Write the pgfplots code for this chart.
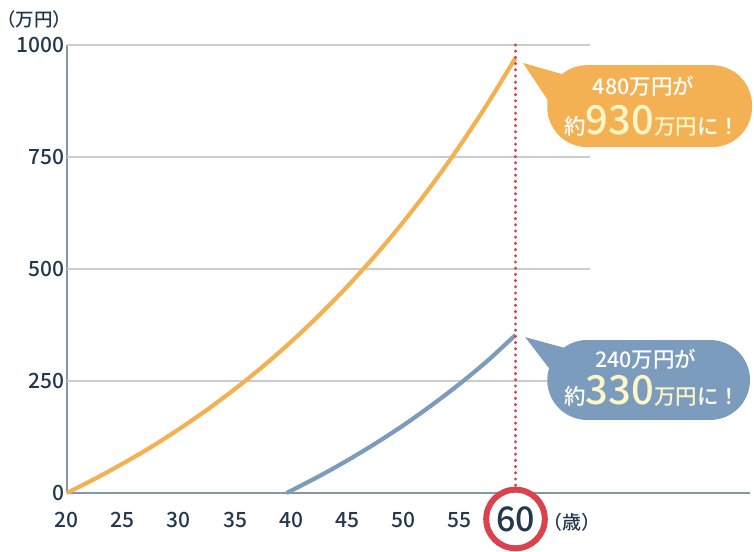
\documentclass[border=0pt]{standalone}
\usepackage{fontspec}
\setmainfont{Noto Sans CJK JP}
\newfontfamily\med{Noto Sans CJK JP Medium}
\usepackage{pgfplots}
\pgfplotsset{compat=1.18}
\definecolor{orng}{HTML}{F4B153}
\definecolor{blu}{HTML}{7B9CBC}
\definecolor{redc}{HTML}{D9434E}
\definecolor{axc}{HTML}{8797A6}
\definecolor{gridc}{HTML}{CCCCCC}
\definecolor{txt}{HTML}{23384C}
\definecolor{cream}{HTML}{FFF6C6}
\begin{document}
\begin{tikzpicture}[x=1pt,y=1pt]
\useasboundingbox (0,0) rectangle (754,551);
\begin{axis}[
  at={(66.7pt,58pt)}, anchor=south west,
  scale only axis, width=683.3pt, height=448pt,
  xmin=20, xmax=80.9, ymin=0, ymax=1000,
  axis x line=bottom, axis y line=left,
  axis line style={-, axc, line width=2pt},
  xtick={20,25,30,35,40,45,50,55},
  ytick={0,250,500,750,1000},
  major tick length=0pt,
  /pgf/number format/1000 sep={},
  /pgf/number format/assume math mode=true,
  ticklabel style={font=\med\fontsize{21}{21}\selectfont, text=txt},
  xticklabel style={yshift=-16pt},
  yticklabel style={xshift=1pt},
  clip=false,
]
% grid lines
\foreach \v in {250,500,750,1000} {
  \edef\tmp{\noexpand\draw[gridc, line width=1.5pt] (axis cs:20,\v) -- (axis cs:66.6,\v);}
  \tmp
}
% curves
\addplot[orng, line width=4.2pt, smooth] table {
x y
20 0
22.5 31.5
25 65.6
27.5 102.2
30 142.4
32.5 185.6
35 232.3
37.5 282.8
40 337.6
42.5 396.7
45 460.7
47.5 530.0
50 604.9
52.5 686.0
55 773.7
57.5 868.6
60 971
};
\addplot[blu, line width=4.2pt, smooth] table {
x y
39.6 0
42.5 37.5
45 72.5
47.5 110.3
50 151.0
52.5 195.4
55 243.2
57.5 295.0
60 353
};
% dotted line
\draw[redc, line width=3.4pt, line cap=round, dash pattern=on 0pt off 6.2pt] (axis cs:60,1000) -- (axis cs:60,14);
% circle and 60
\draw[redc, line width=6pt, fill=white] (axis cs:60,-58) circle[radius=29.3pt];
\node[text=txt, font=\med\fontsize{34}{34}\selectfont] at (axis cs:60,-58) {60};
\node[text=txt, font=\med\fontsize{19}{19}\selectfont] at (axis cs:65.0,-64.7) {（歳）};
\node[text=txt, inner sep=0pt, font=\med\fontsize{18.5}{18.5}\selectfont] at (axis cs:17.13,1058) {（万円）};
% orange callout
\fill[orng] (axis cs:60.67,960) -- (axis cs:64.7,931) -- (axis cs:63.35,859) -- cycle;
\fill[orng, rounded corners=40pt] (axis cs:62.83,955) rectangle (axis cs:81.08,772);
\node[text=white, font=\med\fontsize{21.5}{21.5}\selectfont] at (axis cs:71.4,908) {480万円が};
\node[text=white, font=\med\fontsize{21.5}{21.5}\selectfont] at (axis cs:72.2,830) {約{\fontsize{40}{40}\selectfont\color{cream}930}{\color{cream}万円}に！};
% blue callout
\fill[blu] (axis cs:60.85,348) -- (axis cs:64.4,323.7) -- (axis cs:63.25,270) -- cycle;
\fill[blu, rounded corners=40pt] (axis cs:62.83,341.5) rectangle (axis cs:80.9,163);
\node[text=white, font=\med\fontsize{21.5}{21.5}\selectfont] at (axis cs:71.6,298) {240万円が};
\node[text=white, font=\med\fontsize{21.5}{21.5}\selectfont] at (axis cs:72.2,229) {約{\fontsize{40}{40}\selectfont\color{cream}330}{\color{cream}万円}に！};
\end{axis}
\end{tikzpicture}
\end{document}
